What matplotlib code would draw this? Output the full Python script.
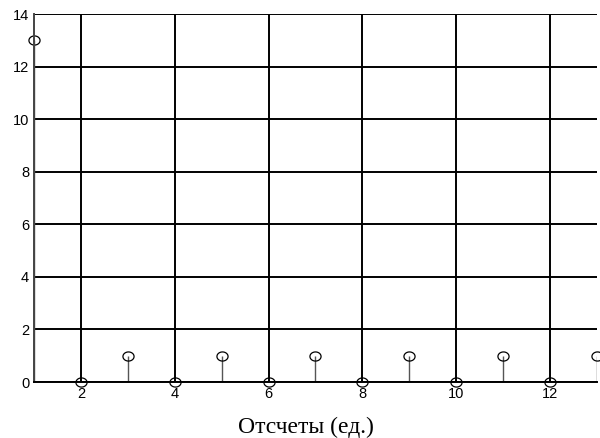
import matplotlib
matplotlib.use("Agg")
import matplotlib.pyplot as plt
import numpy as np
from matplotlib.path import Path

# samples and their values
samples = [1, 2, 3, 4, 5, 6, 7, 8, 9, 10, 11, 12, 13]
values = [13, 0, 1, 0, 1, 0, 1, 0, 1, 0, 1, 0, 1]
x_ticks = [2, 4, 6, 8, 10, 12]
y_ticks = [0, 2, 4, 6, 8, 10, 12, 14]

# slightly flattened circle used as the stem marker
t = np.linspace(0, 2 * np.pi, 60)
ellipse = Path(np.column_stack([np.cos(t), 0.82 * np.sin(t)]), closed=True)

fig = plt.figure(figsize=(6, 4.38), dpi=100)
ax = fig.add_axes([34 / 600, 1 - 382 / 438, 563 / 600, 368 / 438])

ax.grid(True, color="black", linewidth=1.4)
ax.set_axisbelow(True)

markerline, stemlines, baseline = ax.stem(samples, values)
markerline.set_marker(ellipse)
markerline.set_markersize(8)
markerline.set_markerfacecolor("none")
markerline.set_markeredgecolor("black")
markerline.set_markeredgewidth(0.9)
markerline.set_clip_on(False)
stemlines.set_color("#555555")
stemlines.set_linewidth(1.0)
baseline.set_color("black")
baseline.set_linewidth(1.4)

ax.set_xlim(1, 13)
ax.set_ylim(0, 14)
ax.set_xticks(x_ticks)
ax.set_yticks(y_ticks)
ax.tick_params(length=0, labelsize=10.5, pad=3.5)
for lbl in ax.get_xticklabels() + ax.get_yticklabels():
    lbl.set_family("Liberation Sans")

for side in ["top", "right"]:
    ax.spines[side].set_visible(False)
ax.spines["left"].set_color("#444444")
ax.spines["left"].set_linewidth(1.4)
ax.spines["bottom"].set_color("black")
ax.spines["bottom"].set_linewidth(1.4)

fig.text(306 / 600, 1 - 427 / 438, "Отсчеты (ед.)", family="Liberation Serif",
         fontsize=17, ha="center", va="center")

fig.savefig("out.png", dpi=100)
